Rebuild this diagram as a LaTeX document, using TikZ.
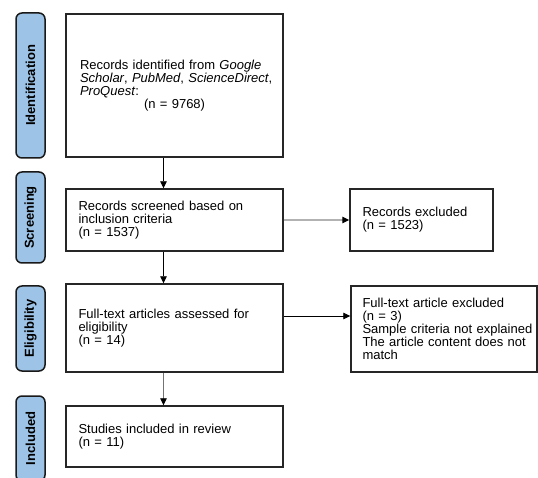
\documentclass[tikz,border=0pt]{standalone}
\usepackage{fontspec}
\setmainfont{Liberation Sans}
\usetikzlibrary{arrows.meta}
\definecolor{phasefill}{HTML}{9DC3E6}
\definecolor{edgecol}{HTML}{262626}
\begin{document}
\begin{tikzpicture}[x=1pt,y=-1pt,
  every node/.style={font=\fontsize{13}{13}\selectfont},
  box/.style={draw=edgecol,line width=1.4pt,inner ysep=0pt,align=left},
  phase/.style={draw=black!90,line width=1.5pt,fill=phasefill,rounded corners=6pt,
    rotate=90,minimum height=29pt,inner sep=0pt,
    font=\bfseries\fontsize{13}{13}\selectfont},
  arr/.style={-{Triangle[length=7pt,width=6.5pt,color=black]},line width=0.8pt}
]
\useasboundingbox (0,0) rectangle (538,478);
\clip (0,0) rectangle (538,478);

% phase labels
\node[phase,minimum width=145pt] (pid) at (30.5,85.5) {Identification};
\node[phase,minimum width=91pt] (pscr) at (30.5,217.5) {Screening};
\node[phase,minimum width=85pt] (pel) at (30.5,328.5) {Eligibility};
\node[phase,minimum width=85pt] (pinc) at (30.5,438.5) {Included};

% boxes
\node[box,text width=189pt,inner xsep=14pt,minimum height=143pt] (b1) at (174.5,85.5)
  {\mbox{Records identified from \textit{Google}}\\
   \mbox{\textit{Scholar}, \textit{PubMed}, \textit{ScienceDirect},}\\
   \textit{ProQuest}:\\
   \hspace*{64pt}(n = 9768)};
\node[box,text width=192pt,inner xsep=12.5pt,minimum height=62pt] (b2) at (174.5,220)
  {\mbox{Records screened based on}\\ inclusion criteria\\ (n = 1537)};
\node[box,text width=118pt,inner xsep=12.5pt,minimum height=62pt] (e1) at (421.5,220)
  {Records excluded\\ (n = 1523)};
\node[box,text width=192pt,inner xsep=12.5pt,minimum height=88pt] (b3) at (174.5,328)
  {\mbox{Full-text articles assessed for}\\ eligibility\\ (n = 14)};
\node[box,text width=163pt,inner xsep=11.5pt,minimum height=86pt] (e2) at (444,329)
  {\mbox{Full-text article excluded}\\ (n = 3)\\ \mbox{Sample criteria not explained}\\
   \mbox{The article content does not}\\ match};
\node[box,text width=192pt,inner xsep=12.5pt,minimum height=61pt] (b4) at (174.5,436.5)
  {\mbox{Studies included in review}\\ (n = 11)};

% connectors
\coordinate (ax) at (163.5,0);
\coordinate (ey) at (0,316);
\draw[arr] (b1.south -| ax) -- (b2.north -| ax);
\draw[arr] (b2.south -| ax) -- (b3.north -| ax);
\draw[arr,draw=black!55] (b3.south -| ax) -- (b4.north -| ax);
\draw[arr,draw=black!30,line width=1.2pt] (b2.east) -- (e1.west);
\draw[arr] (b3.east |- ey) -- (e2.west |- ey);
\end{tikzpicture}
\end{document}
